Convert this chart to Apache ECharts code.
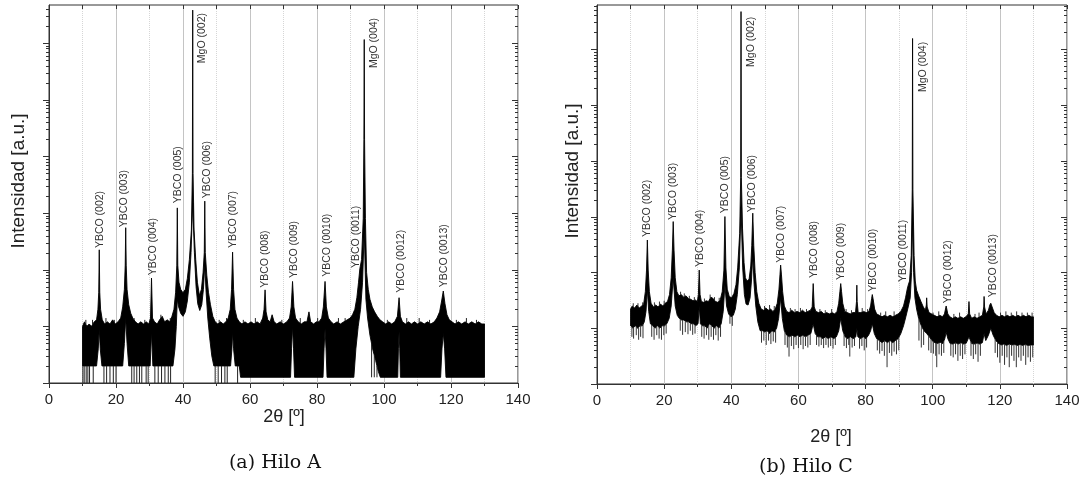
<!DOCTYPE html>
<html><head><meta charset="utf-8">
<script src="https://cdn.jsdelivr.net/npm/echarts@6/dist/echarts.min.js"></script>
<style>html,body{margin:0;padding:0;background:#fff}#c{width:1083px;height:483px}</style>
</head><body><div id="c"></div>
<script>
// ---------- DATA (2θ in degrees, intensity in a.u.) ----------
// Panel (a) Hilo A : envelope of the noisy trace
const upperA = [[10.0,10],[10.6,12],[11.3,10],[12.0,11],[12.7,10],[13.5,12],[14.2,13],[14.6,20],[14.85,40],[15.0,224],[15.15,40],[15.4,20],[15.9,13],[16.6,11],[17.4,12],[18.2,11],[19.0,13],[19.8,11],[20.6,12],[21.4,14],[22.0,22],[22.5,45],[22.75,120],[22.9,550],[23.05,120],[23.3,45],[23.8,24],[24.4,17],[25.0,14],[25.8,12],[26.6,11],[27.4,12],[28.2,11],[29.0,12],[29.8,11],[30.3,14],[30.6,71],[30.9,14],[31.5,12],[32.3,11],[33.0,13],[33.8,15],[34.5,12],[35.3,13],[36.0,12],[36.7,15],[37.3,20],[37.8,40],[38.15,120],[38.3,1230],[38.45,120],[38.8,60],[39.3,45],[40.0,39],[40.7,45],[41.3,70],[41.9,150],[42.5,500],[42.8,5000],[42.9,3.8e6],[43.0,5000],[43.3,500],[43.8,150],[44.3,60],[44.9,35],[45.5,45],[46.0,90],[46.35,200],[46.5,1620],[46.65,200],[47.1,80],[47.6,40],[48.2,24],[48.9,15],[49.6,12],[50.4,11],[51.2,12],[52.0,11],[52.8,12],[53.5,14],[54.1,20],[54.5,45],[54.8,204],[55.1,45],[55.5,20],[56.1,14],[56.8,12],[57.6,11],[58.5,12],[59.4,11],[60.3,12],[61.2,11],[62.1,12],[63.0,11],[63.8,14],[64.2,20],[64.5,44],[64.8,18],[65.3,13],[66.0,12],[66.6,16],[67.2,12],[68.0,11],[69.0,12],[70.0,11],[71.0,12],[71.8,14],[72.3,22],[72.7,62],[73.1,22],[73.6,14],[74.4,12],[75.3,11],[76.2,12],[77.0,12],[77.6,18],[78.1,12],[79.0,11],[79.8,12],[80.6,12],[81.4,14],[81.9,22],[82.4,62],[82.8,22],[83.4,14],[84.2,12],[85.0,11],[86.0,12],[87.0,11],[88.0,12],[89.0,13],[89.9,14],[90.6,16],[91.3,20],[91.9,32],[92.4,60],[92.8,105],[93.3,150],[93.8,800],[94.0,20000],[94.1,1.15e6],[94.2,20000],[94.45,800],[94.8,90],[95.3,45],[95.8,30],[96.5,22],[97.2,18],[98.0,15],[98.8,13],[99.6,12],[100.5,11],[101.4,12],[102.3,11],[103.2,12],[104.0,15],[104.5,32],[104.9,15],[105.5,12],[106.4,11],[107.3,12],[108.2,11],[109.1,12],[110.0,11],[111.0,12],[112.0,11],[113.0,12],[114.0,11],[115.0,12],[115.8,14],[116.6,18],[117.2,28],[117.7,42],[118.2,25],[118.8,16],[119.5,13],[120.3,12],[121.2,11],[122.2,12],[123.2,11],[124.2,12],[125.2,11],[126.2,12],[127.2,11],[128.2,12],[129.2,11],[130.0,11]];
const lowerA = [[10.0,2],[14.2,2],[14.7,4],[15.0,9],[15.3,4],[15.8,2],[22.0,2],[22.5,5],[22.9,14],[23.3,5],[23.8,2],[30.2,2],[30.6,8],[31.0,2],[37.0,2],[37.6,4],[38.0,10],[38.3,30],[38.7,22],[39.3,17],[40.0,15],[40.7,18],[41.3,28],[41.9,60],[42.4,200],[42.9,1500],[43.4,200],[43.9,50],[44.4,25],[45.0,19],[45.6,24],[46.1,45],[46.5,120],[46.9,40],[47.4,14],[48.0,6],[48.6,3],[49.2,2],[54.2,2],[54.6,4],[54.8,8],[55.1,4],[55.6,2],[56.8,2],[57.2,1.26],[72.1,1.26],[72.4,4],[72.7,10],[73.0,4],[73.3,1.26],[81.8,1.26],[82.1,4],[82.4,9],[82.7,4],[83.0,1.26],[91.0,1.26],[91.6,4],[92.3,10],[93.0,20],[93.6,60],[94.1,500],[94.6,30],[95.1,14],[95.8,7],[96.6,4],[97.5,2.5],[98.3,1.6],[98.9,1.26],[104.1,1.26],[104.3,4],[104.5,8],[104.7,4],[104.9,1.26],[116.9,1.26],[117.3,4],[117.7,7.6],[118.1,4],[118.5,1.26],[130.0,1.26]];
// single counts dropping toward the axis
const dropsA = [[10.1,1],[10.5,1],[11.1,1],[11.6,1],[12.1,1],[13.2,1],[16.4,1],[17.2,1],[18.2,1],[19.2,1],[20.0,1],[24.7,1],[25.4,1],[26.2,1],[27.0,1],[27.7,1],[29.0,1],[29.6,1],[31.6,1],[32.6,1],[33.6,1],[34.6,1],[35.6,1],[36.3,1],[49.6,1],[50.5,1],[51.5,1],[52.5,1],[53.2,1],[56.3,1],[96.3,1.26],[97.1,1.26],[97.9,1.26]];
const spikesUpA = [[11.0,13],[13.0,13],[17.0,14],[19.5,13],[25.4,14],[28.6,13],[33.4,16],[36.2,14],[50.8,13],[53.0,14],[58.0,13],[61.6,14],[66.6,16],[69.5,13],[75.0,14],[77.6,18],[80.2,14],[86.4,14],[88.4,14],[101.0,13],[106.8,14],[110.5,14],[113.6,13],[121.6,13],[124.6,14],[127.6,13]];
const labelsA = [['YBCO (002)',15.2,240],['YBCO (003)',22.4,562],['YBCO (004)',31.0,80],['YBCO (005)',38.5,1480],['MgO (002)',45.7,4.4e5],['YBCO (006)',47.2,1820],['YBCO (007)',54.9,240],['YBCO (008)',64.5,48],['YBCO (009)',73.1,71],['YBCO (0010)',82.9,75],['YBCO (0011)',91.6,107],['MgO (004)',97.0,3.6e5],['YBCO (0012)',105.0,39],['YBCO (0013)',117.9,49]];

// Panel (b) Hilo C
const upperB = [[10.0,22],[10.5,25],[11.2,23],[11.9,26],[12.6,23],[13.3,25],[13.9,27],[14.4,45],[14.75,110],[15.0,380],[15.25,110],[15.6,45],[16.1,28],[16.8,24],[17.5,26],[18.2,24],[18.9,27],[19.6,25],[20.3,28],[21.0,30],[21.6,40],[22.1,80],[22.45,250],[22.7,813],[22.95,250],[23.3,80],[23.8,45],[24.4,38],[25.1,40],[25.8,36],[26.5,38],[27.2,34],[27.9,33],[28.6,31],[29.3,32],[29.9,30],[30.2,40],[30.45,110],[30.7,40],[31.1,30],[31.8,29],[32.5,31],[33.2,30],[33.9,36],[34.6,34],[35.3,30],[36.0,29],[36.7,32],[37.3,45],[37.8,110],[38.1,1000],[38.4,120],[38.8,50],[39.4,37],[40.1,35],[40.8,42],[41.4,60],[41.9,120],[42.5,500],[42.8,5000],[42.9,4.7e6],[43.0,5000],[43.35,600],[43.8,150],[44.2,80],[44.7,70],[45.3,75],[45.8,130],[46.1,300],[46.4,1150],[46.7,300],[47.1,100],[47.6,45],[48.2,28],[48.9,22],[49.6,21],[50.3,23],[51.0,21],[51.7,22],[52.4,20],[53.1,22],[53.7,28],[54.2,50],[54.5,90],[54.7,135],[54.95,90],[55.3,45],[55.8,25],[56.5,20],[57.2,19],[58.0,21],[58.8,19],[59.6,20],[60.4,19],[61.2,21],[62.0,19],[62.8,20],[63.6,21],[64.1,24],[64.4,63],[64.7,24],[65.2,20],[66.0,19],[66.8,20],[67.6,18],[68.4,19],[69.2,18],[70.0,19],[70.8,18],[71.5,20],[72.0,28],[72.35,45],[72.6,63],[72.85,45],[73.2,28],[73.8,20],[74.6,19],[75.4,18],[76.2,19],[77.0,19],[77.3,30],[77.4,59],[77.5,30],[77.8,19],[78.6,19],[79.4,20],[80.2,19],[81.0,20],[81.5,25],[81.8,34],[82.0,40],[82.3,32],[82.7,22],[83.3,18],[84.1,17],[84.9,16],[85.7,17],[86.5,16],[87.3,17],[88.1,16],[88.9,17],[89.7,18],[90.5,20],[91.3,25],[91.9,35],[92.4,50],[92.7,59],[93.1,70],[93.6,200],[93.9,3000],[94.0,1.55e6],[94.1,3000],[94.45,200],[94.8,70],[95.2,48],[95.8,38],[96.5,30],[97.2,24],[97.8,21],[98.1,26],[98.2,35],[98.35,24],[98.9,19],[99.7,18],[100.5,17],[101.3,16],[102.1,17],[102.9,16],[103.5,18],[104.0,25],[104.5,18],[105.1,16],[105.9,15],[106.7,16],[107.5,15],[108.3,16],[109.1,15],[109.9,16],[110.6,18],[110.8,30],[111.0,18],[111.6,15],[112.4,16],[113.2,15],[114.0,16],[114.8,17],[115.2,24],[115.3,37],[115.45,24],[115.9,18],[116.6,21],[117.0,26],[117.3,28],[117.7,24],[118.3,19],[119.0,17],[119.8,16],[120.6,17],[121.4,16],[122.2,17],[123.0,16],[123.8,17],[124.6,16],[125.4,17],[126.2,16],[127.0,17],[127.8,16],[128.6,17],[129.4,16],[130.0,16]];
const lowerB = [[10.0,11],[10.7,10],[11.4,11],[12.1,10],[12.8,11],[13.5,11],[14.1,13],[14.6,20],[15.0,50],[15.4,20],[15.9,12],[16.6,11],[17.3,10],[18.0,11],[18.7,10],[19.4,11],[20.1,11],[20.8,12],[21.5,15],[22.1,25],[22.7,80],[23.3,25],[23.9,17],[24.5,15],[25.2,14],[25.9,14],[26.6,13],[27.3,13],[28.0,12],[28.7,12],[29.4,11],[30.1,12],[30.45,25],[30.8,12],[31.4,11],[32.1,11],[32.8,10],[33.5,12],[34.2,11],[34.9,10],[35.6,11],[36.3,10],[37.0,12],[37.6,20],[38.1,60],[38.6,25],[39.2,18],[39.9,16],[40.6,17],[41.2,22],[41.8,40],[42.4,120],[42.9,1500],[43.4,120],[43.9,40],[44.4,27],[45.0,26],[45.6,35],[46.0,70],[46.4,200],[46.8,60],[47.3,25],[47.9,13],[48.6,9],[49.3,9],[50.0,8.5],[50.7,9],[51.4,8],[52.1,9],[52.8,8.5],[53.5,10],[54.1,15],[54.7,35],[55.2,15],[55.8,9],[56.5,7.5],[57.3,7],[58.1,7.5],[58.9,7],[59.7,7.5],[60.5,7],[61.3,7.5],[62.1,7],[62.9,7.5],[63.7,8],[64.4,12],[65.0,8],[65.7,7],[66.5,7],[67.3,6.5],[68.1,7],[68.9,6.5],[69.7,7],[70.5,6.5],[71.3,7],[72.0,9],[72.6,15],[73.2,9],[73.9,7],[74.7,6.5],[75.5,7],[76.3,6.5],[77.1,7],[77.4,10],[77.7,7],[78.5,6.5],[79.3,7],[80.1,6.5],[80.9,7.5],[81.5,9],[82.0,12],[82.6,8],[83.3,6.5],[84.1,6],[84.9,5.5],[85.7,6],[86.5,5.5],[87.3,6],[88.1,5.5],[88.9,6],[89.7,6.5],[90.5,8],[91.3,11],[92.0,16],[92.7,24],[93.3,35],[93.7,100],[94.0,800],[94.3,100],[94.7,35],[95.2,22],[95.8,15],[96.6,11],[97.4,9],[98.2,8],[99.0,7],[99.8,6],[100.6,5.5],[101.4,5.3],[102.2,5.6],[103.0,5.3],[103.6,6.5],[104.0,8.5],[104.5,6.5],[105.2,5.3],[106.0,5.2],[106.8,5.5],[107.6,5.2],[108.4,5.5],[109.2,5.2],[110.0,5.4],[110.8,7],[111.6,5.3],[112.4,5.2],[113.2,5.4],[114.0,5.2],[114.8,5.5],[115.3,8],[115.8,6],[116.6,7.5],[117.3,10],[118.0,7.5],[118.8,6],[119.6,5.3],[120.4,5],[121.2,5.2],[122.0,4.9],[122.8,5.2],[123.6,5],[124.4,5.1],[125.2,4.9],[126.0,5.1],[126.8,4.9],[127.6,5.1],[128.4,4.9],[129.2,5],[130.0,5]];
const spikesDownB = [[10.4,7],[10.9,6.5],[11.7,7.5],[12.4,6.2],[13.0,7],[13.7,6.6],[16.3,7],[17.0,6.2],[17.8,7.5],[18.5,6.5],[19.2,6.2],[19.9,7.5],[20.6,8],[24.8,9],[25.5,7.6],[26.3,8.5],[27.1,7.8],[27.8,9],[28.5,7.6],[29.2,8],[31.2,7],[31.9,6.5],[32.6,7.5],[33.3,6.2],[34.0,7],[34.7,6.2],[35.4,7.5],[36.1,6],[36.8,7],[39.6,12],[40.3,11],[49.0,5.5],[49.7,6],[50.4,5],[51.1,6],[51.8,5.2],[52.5,5.8],[53.2,5.5],[56.0,5],[56.7,4.5],[57.2,3.1],[57.9,4.8],[58.6,4.2],[59.3,5],[60.0,4.4],[60.7,5],[61.4,4.2],[62.1,4.8],[62.8,4.5],[63.5,5],[65.4,5],[66.1,4.7],[66.8,5],[67.5,4.4],[68.2,5],[68.9,4.5],[69.6,4.8],[70.3,4.3],[71.0,5],[73.6,4.8],[74.3,4.4],[75.0,5],[75.3,3.1],[76.0,4.5],[76.7,4.8],[78.2,4.3],[78.9,4.8],[79.6,4],[80.3,4.5],[83.5,4],[84.2,3.5],[84.9,3.9],[85.6,3.2],[86.4,2.0],[87.1,3.6],[87.8,3.2],[88.5,3.8],[89.2,3.4],[89.9,4],[95.9,6],[96.6,4.5],[97.3,5],[98.8,4],[99.5,3.6],[100.2,3.5],[100.9,3.2],[101.2,2.0],[101.9,3.4],[102.6,3.2],[103.3,3.6],[105.4,3.2],[106.1,3],[106.8,3.4],[107.5,2.6],[108.2,3.2],[108.9,2.8],[109.6,3.4],[111.4,3.2],[112.1,2.8],[112.8,3.4],[113.5,2.5],[114.2,3.2],[118.6,3.6],[119.3,3],[120.0,2.4],[120.7,3.2],[121.4,2.2],[122.1,3],[122.8,2.0],[123.5,3.2],[124.2,2.6],[124.9,2.0],[125.6,3],[126.3,2.6],[127.0,3.2],[127.7,2.2],[128.4,3],[129.1,2.5],[129.8,3]];
const spikesUpB = [[10.8,28],[12.2,28],[13.6,29],[17.1,29],[18.6,30],[20.0,31],[24.9,45],[26.0,42],[27.5,38],[29.0,36],[32.0,34],[33.7,40],[35.0,36],[36.4,35],[49.9,25],[51.4,26],[52.8,25],[57.6,23],[59.0,22],[60.6,23],[62.4,22],[66.4,22],[68.0,21],[69.9,22],[74.2,22],[75.8,21],[79.0,23],[80.6,22],[84.5,19],[86.0,20],[88.5,20],[100.1,19],[101.8,20],[106.3,18],[108.0,19],[112.6,18],[113.8,19],[120.2,19],[121.8,20],[123.4,19],[125.0,20],[126.6,19],[128.2,19],[129.6,19]];
const labelsB = [['YBCO (002)',15.0,430],['YBCO (003)',22.7,870],['YBCO (004)',30.7,125],['YBCO (005)',38.3,1150],['MgO (002)',45.8,4.8e5],['YBCO (006)',46.3,1200],['YBCO (007)',54.7,148],['YBCO (008)',64.6,79],['YBCO (009)',72.6,73],['YBCO (0010)',82.3,45],['YBCO (0011)',91.2,67],['MgO (004)',97.2,1.7e5],['YBCO (0012)',104.6,28],['YBCO (0013)',117.9,36]];

// ---------- RENDERING ----------
const SANS = '"Liberation Sans", Arial, sans-serif';
const AXIS_COLOR = '#333';
const X_MIN = 0, X_MAX = 140;

function envAt(arr, t){
  for (let i = 0; i < arr.length - 1; i++){
    const a = arr[i], b = arr[i+1];
    if (t >= a[0] && t <= b[0]){
      const f = (t - a[0]) / (b[0] - a[0]);
      return Math.pow(10, Math.log10(a[1]) * (1 - f) + Math.log10(b[1]) * f);
    }
  }
  return arr[arr.length-1][1];
}

function bandSeries(upper, lower, xi, yi){
  return {
    type: 'custom', xAxisIndex: xi, yAxisIndex: yi, clip: true, silent: true,
    data: [[upper[0][0], upper[0][1]]],
    renderItem: function(params, api){
      const pts = upper.map(p => api.coord(p)).concat(lower.slice().reverse().map(p => api.coord(p)));
      return {type: 'polygon', shape: {points: pts}, style: {fill: '#000', stroke: '#000', lineWidth: 0.9}};
    }
  };
}
function spikeSeries(spikes, env, xi, yi, color){
  return {
    type: 'custom', xAxisIndex: xi, yAxisIndex: yi, clip: true, silent: true,
    data: spikes,
    renderItem: function(params, api){
      const t = api.value(0), v = api.value(1);
      const p0 = api.coord([t, envAt(env, t)]), p1 = api.coord([t, v]);
      return {type: 'line', shape: {x1: p0[0], y1: p0[1], x2: p1[0], y2: p1[1]}, style: {stroke: color, lineWidth: 1}};
    }
  };
}
function labelSeries(labels, xi, yi){
  return {
    type: 'custom', xAxisIndex: xi, yAxisIndex: yi, clip: false, silent: true,
    data: labels.map(l => [l[1], l[2]]),
    renderItem: function(params, api){
      const l = labels[params.dataIndex];
      const p = api.coord([l[1], l[2]]);
      return {type: 'text', x: p[0], y: p[1], rotation: Math.PI / 2,
        style: {text: l[0], font: '10.5px ' + SANS, fill: '#333', align: 'left', verticalAlign: 'middle'}};
    }
  };
}
function yTickSeries(maxV, xi, yi){
  const ticks = [];
  for (let k = 0; Math.pow(10, k) <= maxV; k++){
    for (let m = 1; m <= 9; m++){
      const v = m * Math.pow(10, k);
      if (v <= maxV) ticks.push([X_MIN, v, m === 1 ? 1 : 0]);
    }
  }
  return {
    type: 'custom', xAxisIndex: xi, yAxisIndex: yi, clip: false, silent: true,
    data: ticks,
    renderItem: function(params, api){
      const v = api.value(1), major = api.value(2) === 1;
      const len = major ? 6 : 3;
      const pL = api.coord([X_MIN, v]), pR = api.coord([X_MAX, v]);
      const y = Math.round(pL[1]) + 0.5;
      const st = {stroke: AXIS_COLOR, lineWidth: 1};
      return {type: 'group', children: [
        {type: 'line', shape: {x1: pL[0] - len, y1: y, x2: pL[0], y2: y}, style: st},
        {type: 'line', shape: {x1: pR[0] - len, y1: y, x2: pR[0], y2: y}, style: st}
      ]};
    }
  };
}

function bottomX(gi){
  return {
    type: 'value', gridIndex: gi, position: 'bottom', min: X_MIN, max: X_MAX, interval: 20,
    axisLine: {show: true, lineStyle: {color: AXIS_COLOR, width: 1}},
    axisTick: {show: true, length: 5, lineStyle: {color: AXIS_COLOR}},
    minorTick: {show: true, splitNumber: 2, length: 3, lineStyle: {color: AXIS_COLOR}},
    axisLabel: {show: true, fontSize: 15, color: '#222', fontFamily: SANS, margin: 9},
    splitLine: {show: true, lineStyle: {color: '#c4c4c4', width: 1}},
    minorSplitLine: {show: true, lineStyle: {color: '#d6d6d6', width: 1, type: 'dotted'}}
  };
}
function topX(gi){
  return {
    type: 'value', gridIndex: gi, position: 'top', min: X_MIN, max: X_MAX, interval: 20,
    axisLine: {show: false},
    axisTick: {show: true, inside: true, length: 4, lineStyle: {color: AXIS_COLOR}},
    minorTick: {show: true, splitNumber: 2, length: 4, lineStyle: {color: AXIS_COLOR}},
    axisLabel: {show: false}, splitLine: {show: false}
  };
}
function logY(gi, maxV){
  return {
    type: 'log', logBase: 10, gridIndex: gi, min: 1, max: maxV,
    axisLine: {show: true, lineStyle: {color: AXIS_COLOR, width: 1}},
    axisTick: {show: false}, axisLabel: {show: false}, splitLine: {show: false}
  };
}

const MAX_A = Math.pow(10, 6.67), MAX_B = Math.pow(10, 6.79);

const option = {
  animation: false,
  backgroundColor: '#fff',
  grid: [
    {left: 49, top: 5, width: 469, height: 378, show: true, borderColor: AXIS_COLOR, borderWidth: 1, containLabel: false},
    {left: 597, top: 5, width: 470, height: 379, show: true, borderColor: AXIS_COLOR, borderWidth: 1, containLabel: false}
  ],
  xAxis: [bottomX(0), topX(0), bottomX(1), topX(1)],
  yAxis: [logY(0, MAX_A), logY(1, MAX_B)],
  series: [
    bandSeries(upperA, lowerA, 0, 0),
    spikeSeries(dropsA, lowerA, 0, 0, '#222'),
    spikeSeries(spikesUpA, upperA, 0, 0, '#222'),
    labelSeries(labelsA, 0, 0),
    yTickSeries(MAX_A, 0, 0),
    bandSeries(upperB, lowerB, 2, 1),
    spikeSeries(spikesDownB, lowerB, 2, 1, '#333'),
    spikeSeries(spikesUpB, upperB, 2, 1, '#333'),
    labelSeries(labelsB, 2, 1),
    yTickSeries(MAX_B, 2, 1)
  ],
  graphic: [
    {type: 'text', x: 19, y: 181, rotation: Math.PI/2, style: {text: 'Intensidad [a.u.]', font: '19px ' + SANS, fill: '#222', align: 'center', verticalAlign: 'middle'}},
    {type: 'text', x: 573, y: 171, rotation: Math.PI/2, style: {text: 'Intensidad [a.u.]', font: '19px ' + SANS, fill: '#222', align: 'center', verticalAlign: 'middle'}},
    {type: 'text', x: 284, y: 417, style: {text: '2θ [º]', font: '18px ' + SANS, fill: '#222', align: 'center', verticalAlign: 'middle'}},
    {type: 'text', x: 831, y: 437, style: {text: '2θ [º]', font: '18px ' + SANS, fill: '#222', align: 'center', verticalAlign: 'middle'}},
    {type: 'text', x: 275, y: 463, style: {text: '(a) Hilo A', font: '19px "DejaVu Serif", serif', fill: '#111', align: 'center', verticalAlign: 'middle'}},
    {type: 'text', x: 806, y: 467, style: {text: '(b) Hilo C', font: '19px "DejaVu Serif", serif', fill: '#111', align: 'center', verticalAlign: 'middle'}}
  ]
};
const chart = echarts.init(document.getElementById('c'), null, {renderer: 'canvas', width: 1083, height: 483});
chart.setOption(option);
</script>
</body></html>
